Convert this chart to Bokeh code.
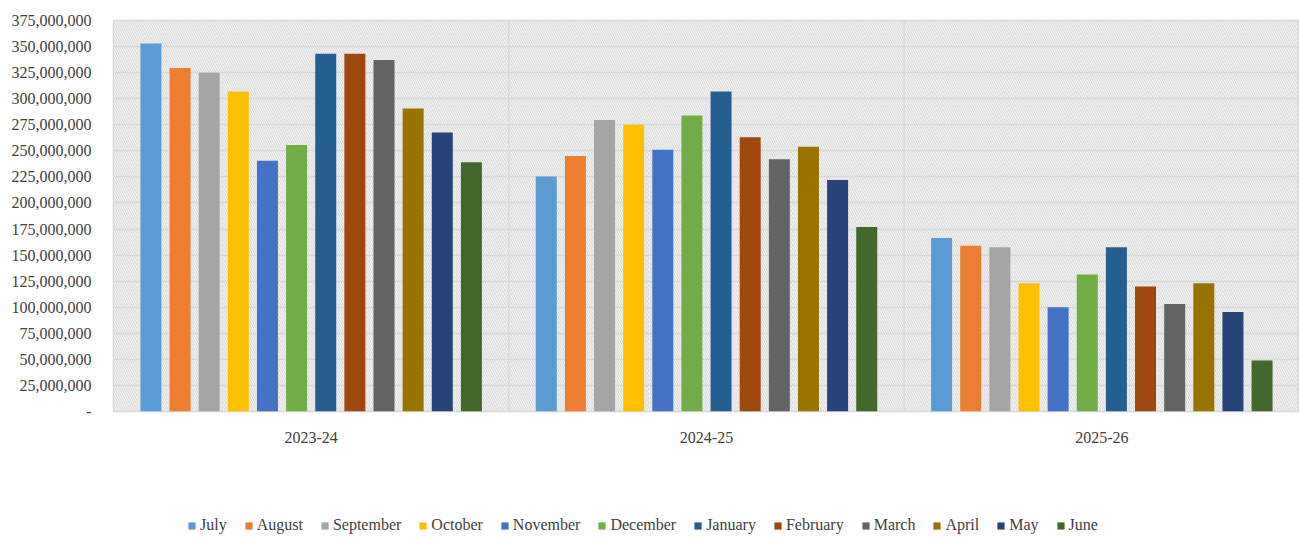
from bokeh.plotting import figure
from bokeh.layouts import column
from bokeh.models import (FactorRange, Range1d, ColumnDataSource, Legend, LegendItem,
                          BoxAnnotation, FixedTicker, NumeralTickFormatter)
from bokeh.transform import dodge
from bokeh.embed import file_html
from bokeh.resources import INLINE

years = ["2023-24", "2024-25", "2025-26"]
months = ["July", "August", "September", "October", "November", "December",
          "January", "February", "March", "April", "May", "June"]

july      = [353_000_000, 225_500_000, 166_500_000]
august    = [329_500_000, 245_000_000, 159_000_000]
september = [325_000_000, 279_500_000, 157_500_000]
october   = [307_000_000, 275_000_000, 123_000_000]
november  = [240_500_000, 251_000_000, 100_000_000]
december  = [255_500_000, 284_000_000, 131_500_000]
january   = [343_000_000, 307_000_000, 157_500_000]
february  = [343_000_000, 263_000_000, 120_000_000]
march     = [337_000_000, 242_000_000, 103_000_000]
april     = [290_500_000, 254_000_000, 123_000_000]
may       = [267_500_000, 222_000_000,  95_500_000]
june      = [239_000_000, 177_000_000,  49_000_000]

series = [july, august, september, october, november, december,
          january, february, march, april, may, june]
colors = ["#5B9BD5", "#ED7D31", "#A5A5A5", "#FFC000", "#4472C4", "#70AD47",
          "#255E91", "#9E480E", "#636363", "#997300", "#264478", "#43682B"]

y_ticks = list(range(0, 375_000_001, 25_000_000))

data = {"year": years}
for m, s in zip(months, series):
    data[m] = s
src = ColumnDataSource(data)

FONT = "Liberation Serif"
TXT = "#404040"
GRID = "#d9d9d9"

p = figure(width=1299, height=500, output_backend="svg", toolbar_location=None,
           x_range=FactorRange(factors=years, range_padding=0),
           y_range=Range1d(0, 375_000_000),
           min_border_left=113, min_border_right=0, min_border_top=20, min_border_bottom=89)

p.outline_line_color = GRID
p.outline_line_width = 1.5
p.background_fill_color = "white"

hatch = BoxAnnotation(fill_alpha=0, line_color=None, hatch_pattern="\\",
                      hatch_color="#d2d2d2", hatch_scale=4.5, hatch_weight=1.1, level="image")
p.add_layout(hatch)

p.xgrid.visible = False
p.ygrid.ticker = FixedTicker(ticks=y_ticks)
p.ygrid.grid_line_color = GRID
p.ygrid.grid_line_width = 1.5

sep_src = ColumnDataSource({"year": years[:2], "y0": [0, 0], "y1": [375_000_000, 375_000_000]})
p.segment(x0=dodge("year", 0.5, range=p.x_range), x1=dodge("year", 0.5, range=p.x_range),
          y0="y0", y1="y1", source=sep_src, line_color=GRID, line_width=1.5, level="underlay")

pitch = 0.0737
bw = 0.0531
for i, (m, c) in enumerate(zip(months, colors)):
    p.vbar(x=dodge("year", (i - 5.5) * pitch, range=p.x_range), top=m, width=bw,
           source=src, fill_color=c, line_color=None)

p.yaxis.ticker = FixedTicker(ticks=y_ticks)
p.yaxis.formatter = NumeralTickFormatter(format="0,0")
p.yaxis.major_label_overrides = {0: "-"}
p.yaxis.axis_line_color = None
p.yaxis.major_tick_line_color = None
p.yaxis.minor_tick_line_color = None
p.yaxis.major_label_standoff = 16
p.yaxis.major_label_text_font = FONT
p.yaxis.major_label_text_font_size = "16px"
p.yaxis.major_label_text_color = TXT

p.xaxis.axis_line_color = None
p.xaxis.major_tick_line_color = None
p.xaxis.major_label_standoff = 14
p.xaxis.major_label_text_font = FONT
p.xaxis.major_label_text_font_size = "16px"
p.xaxis.major_label_text_color = TXT

# legend strip below the chart
lf = figure(width=1299, height=37, output_backend="svg", toolbar_location=None,
            x_range=Range1d(0, 1), y_range=Range1d(0, 1),
            min_border_left=0, min_border_right=0, min_border_top=0, min_border_bottom=0)
lf.axis.visible = False
lf.grid.visible = False
lf.outline_line_color = None
items = []
for m, c in zip(months, colors):
    r = lf.vbar(x=[-5], top=[-4], bottom=[-5], width=0.1, fill_color=c, line_color=None)
    items.append(LegendItem(label=m, renderers=[r]))
legend = Legend(items=items, orientation="horizontal", location=(74, 3),
                label_text_font=FONT, label_text_font_size="16px", label_text_color=TXT,
                glyph_width=9, glyph_height=9, label_standoff=4, spacing=17,
                border_line_color=None, background_fill_alpha=0, margin=0, padding=0)
lf.add_layout(legend)

open("out.html", "w").write(file_html(column(p, lf, spacing=0), INLINE))
